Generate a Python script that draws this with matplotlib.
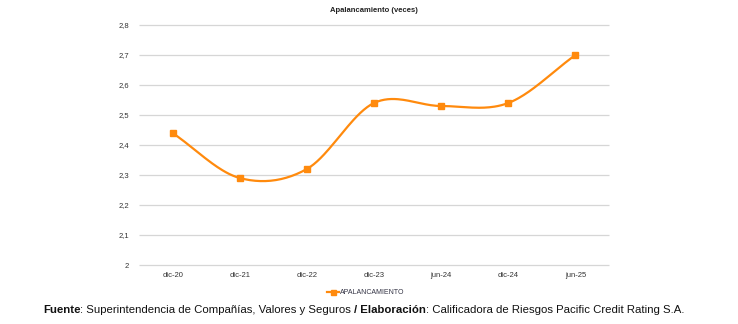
import numpy as np
import matplotlib
matplotlib.use("Agg")
import matplotlib.pyplot as plt
from matplotlib.lines import Line2D

plt.rcParams['font.family'] = ['Liberation Sans', 'DejaVu Sans']

categories = ["dic-20", "dic-21", "dic-22", "dic-23", "jun-24", "dic-24", "jun-25"]
apalancamiento = [2.44, 2.29, 2.32, 2.54, 2.53, 2.54, 2.70]
y_ticks = [2.0, 2.1, 2.2, 2.3, 2.4, 2.5, 2.6, 2.7, 2.8]
y_tick_labels = ["2", "2,1", "2,2", "2,3", "2,4", "2,5", "2,6", "2,7", "2,8"]

ORANGE = "#ff8a0d"


def smooth_curve(xs, ys, n=40):
    """Catmull-Rom spline through the given points."""
    xs = np.asarray(xs, float)
    ys = np.asarray(ys, float)
    px = np.concatenate([[2 * xs[0] - xs[1]], xs, [2 * xs[-1] - xs[-2]]])
    py = np.concatenate([[2 * ys[0] - ys[1]], ys, [2 * ys[-1] - ys[-2]]])
    out_x, out_y = [], []
    t = np.linspace(0, 1, n)
    for i in range(1, len(px) - 2):
        for p, out in ((px, out_x), (py, out_y)):
            p0, p1, p2, p3 = p[i - 1], p[i], p[i + 1], p[i + 2]
            seg = 0.5 * ((2 * p1) + (-p0 + p2) * t
                         + (2 * p0 - 5 * p1 + 4 * p2 - p3) * t ** 2
                         + (-p0 + 3 * p1 - 3 * p2 + p3) * t ** 3)
            out.extend(seg)
    return np.array(out_x), np.array(out_y)


fig = plt.figure(figsize=(7.38, 3.24), dpi=100)
ax = fig.add_axes([139 / 738, 1 - 265 / 324, 470 / 738, 240 / 324])

x = np.arange(len(categories))
sx, sy = smooth_curve(x, apalancamiento)
ax.plot(sx, sy, color=ORANGE, lw=1.6, zorder=3)
ax.plot(x, apalancamiento, ls="none", marker="s", ms=4.0, color=ORANGE, zorder=4)

ax.set_xlim(-0.5, len(categories) - 0.5)
ax.set_ylim(2.0, 2.8)
ax.set_yticks(y_ticks)
ax.set_yticklabels(y_tick_labels)
ax.set_xticks(x)
ax.set_xticklabels(categories)
ax.tick_params(axis="both", length=0, labelsize=5.5, labelcolor="#333333")
ax.tick_params(axis="y", pad=7)
ax.tick_params(axis="x", pad=5)
ax.hlines(y_ticks, -0.5, len(categories) - 0.5, colors="#d6d6d6", lw=0.9,
          zorder=1, clip_on=False)
for s in ax.spines.values():
    s.set_visible(False)

fig.text(374 / 738, 1 - 10 / 324, "Apalancamiento (veces)", ha="center", va="center",
         fontsize=5.5, fontweight="bold", color="#222222")

# legend
handle = Line2D([0], [0], color=ORANGE, lw=1.6, marker="s", ms=3.6)
fig.legend([handle], ["APALANCAMIENTO"], loc="center", bbox_to_anchor=(366 / 738, 1 - 293 / 324),
           frameon=False, fontsize=5, handlelength=1.7, handletextpad=0.2,
           labelcolor="#333344")

# source line with mixed weights
pieces = [("Fuente", "bold"), (": Superintendencia de Compañías, Valores y Seguros ", "normal"),
          ("/ Elaboración", "bold"), (": Calificadora de Riesgos Pacific Credit Rating S.A.", "normal")]
fig.canvas.draw()
renderer = fig.canvas.get_renderer()
xpos = 43
y_px = 310
for txt, weight in pieces:
    t = fig.text(xpos / 738, 1 - y_px / 324, txt, ha="left", va="center", fontsize=8.2,
                 fontweight=weight, color="#111111")
    bb = t.get_window_extent(renderer)
    xpos += bb.width

fig.savefig("out.png", dpi=100)
